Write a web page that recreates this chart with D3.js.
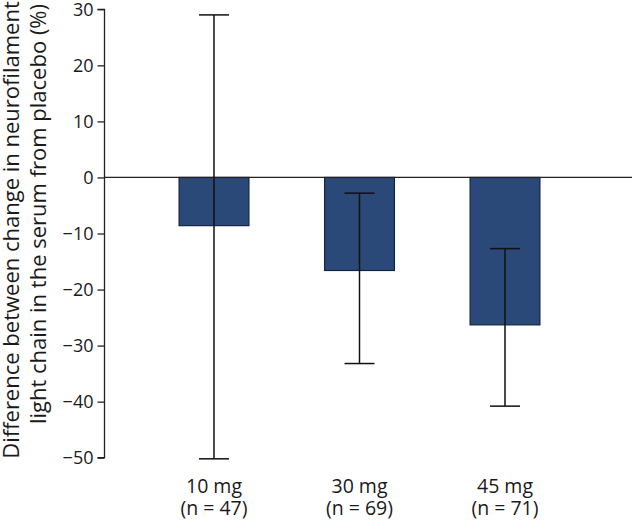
<!DOCTYPE html>
<html><head><meta charset="utf-8">
<script src="https://cdn.jsdelivr.net/npm/d3@7"></script>
<style>
body{margin:0;background:#fff;}
svg{display:block;font-family:"Open Sans",sans-serif;}
</style></head>
<body><svg id="c" width="634" height="520"></svg>
<script>
const categories = ["10 mg", "30 mg", "45 mg"];
const sampleSizes = ["(n = 47)", "(n = 69)", "(n = 71)"];
const values = [-8.6, -16.6, -26.3];
const ciUpper = [29.0, -2.8, -12.7];
const ciLower = [-50.2, -33.2, -40.8];
const yTicks = [30, 20, 10, 0, -10, -20, -30, -40, -50];
const yTitle = ["Difference between change in neurofilament", "light chain in the serum from placebo (%)"];

const svg = d3.select("#c");
const y = d3.scaleLinear().domain([-50, 30]).range([457.7, 9.3]);
const x = d3.scaleBand().domain(categories).range([141.25, 577.75]).paddingInner(0.52).paddingOuter(0.26);
const axisX = 104.5;

// y axis
const yAxis = svg.append("g").attr("transform", `translate(${axisX},0)`)
  .call(d3.axisLeft(y).tickValues(yTicks).tickSize(7).tickPadding(4).tickFormat(d => d < 0 ? "\u2212" + Math.abs(d) : d));
yAxis.select(".domain").attr("stroke", "#222").attr("stroke-width", 1.3).attr("d", `M-7,${y(30)}H0V${y(-50)}H-7`);
yAxis.selectAll(".tick line").attr("stroke", "#222").attr("stroke-width", 1.3);
yAxis.selectAll(".tick text").attr("font-size", 18).attr("fill", "#1a1a1a").attr("font-family", "Open Sans");

// bars
const data = categories.map((c, i) => ({c, v: values[i], hi: ciUpper[i], lo: ciLower[i], n: sampleSizes[i]}));
svg.append("g").selectAll("rect").data(data).join("rect")
  .attr("x", d => x(d.c)).attr("width", x.bandwidth())
  .attr("y", d => y(Math.max(0, d.v))).attr("height", d => Math.abs(y(d.v) - y(0)))
  .attr("fill", "#2a4878").attr("stroke", "#15243d").attr("stroke-width", 1.2);

// zero line
svg.append("line").attr("x1", axisX).attr("x2", 632).attr("y1", y(0)).attr("y2", y(0))
  .attr("stroke", "#222").attr("stroke-width", 1.3);

// error bars
const eb = svg.append("g").attr("stroke", "#111").attr("stroke-width", 1.5);
data.forEach(d => {
  const cx = x(d.c) + x.bandwidth() / 2;
  eb.append("line").attr("x1", cx).attr("x2", cx).attr("y1", y(d.hi)).attr("y2", y(d.lo));
  eb.append("line").attr("x1", cx - 15).attr("x2", cx + 15).attr("y1", y(d.hi)).attr("y2", y(d.hi));
  eb.append("line").attr("x1", cx - 15).attr("x2", cx + 15).attr("y1", y(d.lo)).attr("y2", y(d.lo));
});

// category labels
const lab = svg.append("g").attr("font-size", 19.5).attr("fill", "#1a1a1a").attr("text-anchor", "middle");
data.forEach(d => {
  const cx = x(d.c) + x.bandwidth() / 2;
  lab.append("text").attr("x", cx).attr("y", 493).text(d.c);
  lab.append("text").attr("x", cx).attr("y", 515).text(d.n);
});

// y title
const t = svg.append("g").attr("font-size", 22).attr("fill", "#1a1a1a").attr("text-anchor", "middle");
t.append("text").attr("transform", "translate(19,230) rotate(-90)").text(yTitle[0]);
t.append("text").attr("transform", "translate(46,214) rotate(-90)").text(yTitle[1]);
</script></body></html>
